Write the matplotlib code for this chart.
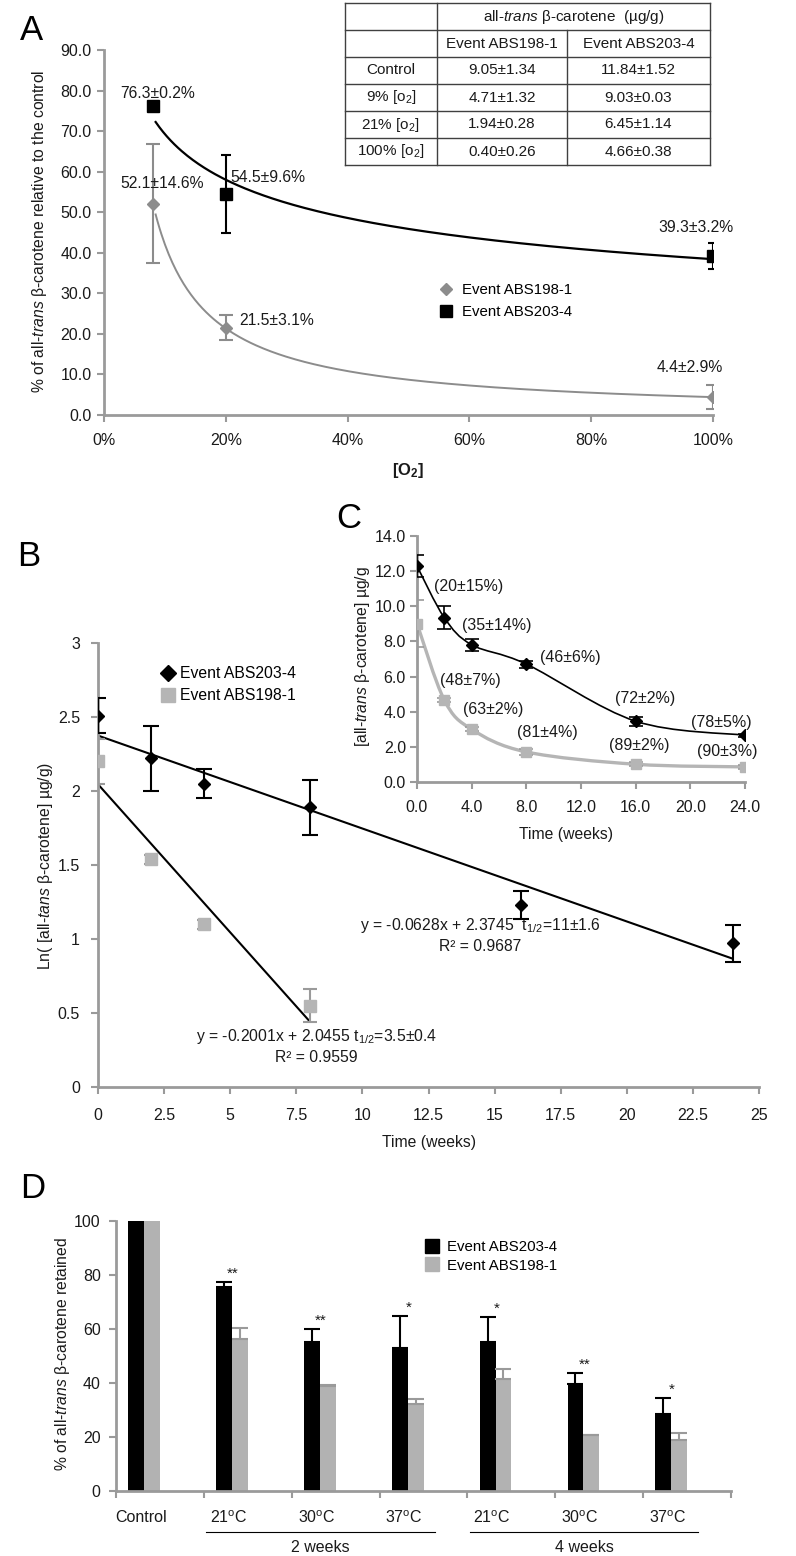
import numpy as np
import matplotlib
matplotlib.use("Agg")
import matplotlib.pyplot as plt
from matplotlib.path import Path
from matplotlib.patches import PathPatch
from matplotlib.lines import Line2D
import matplotlib.transforms as mtrans

# ---------------- data ----------------
# Panel A
o2_levels = [0.08, 0.20, 1.00]
a_abs198_mean = [52.1, 21.5, 4.4]
a_abs198_err = [14.6, 3.1, 2.9]
a_abs203_mean = [76.3, 54.5, 39.3]
a_abs203_err = [0.2, 9.6, 3.2]
a_abs198_labels = ["52.1±14.6%", "21.5±3.1%", "4.4±2.9%"]
a_abs203_labels = ["76.3±0.2%", "54.5±9.6%", "39.3±3.2%"]

table_rows = ["Control", "9% [o$_2$]", "21% [o$_2$]", "100% [o$_2$]"]
table_abs198 = ["9.05±1.34", "4.71±1.32", "1.94±0.28", "0.40±0.26"]
table_abs203 = ["11.84±1.52", "9.03±0.03", "6.45±1.14", "4.66±0.38"]

# Panel B
b_weeks_203 = [0, 2, 4, 8, 16, 24]
b_ln_203 = [2.51, 2.22, 2.05, 1.89, 1.23, 0.97]
b_ln_203_err = [0.12, 0.22, 0.10, 0.185, 0.095, 0.124]
b_weeks_198 = [0, 2, 4, 8]
b_ln_198 = [2.20, 1.54, 1.10, 0.55]
b_ln_198_err = [0.15, 0.03, 0.03, 0.11]
fit_203 = [-0.0628, 2.3745]
fit_198 = [-0.2001, 2.0455]

# Panel C
c_weeks = [0, 2, 4, 8, 16, 24]
c_abs203 = [12.29, 9.35, 7.81, 6.71, 3.46, 2.66]
c_abs203_err = [0.65, 0.65, 0.33, 0.20, 0.25, 0.10]
c_abs198 = [9.02, 4.66, 3.00, 1.71, 1.01, 0.86]
c_abs198_err = [1.34, 0.10, 0.12, 0.15, 0.10, 0.10]
c_loss_203 = ["(20±15%)", "(35±14%)", "(46±6%)", "(72±2%)", "(78±5%)"]
c_loss_198 = ["(48±7%)", "(63±2%)", "(81±4%)", "(89±2%)", "(90±3%)"]

# Panel D
d_categories = ["Control", "21$^\\mathregular{o}$C", "30$^\\mathregular{o}$C", "37$^\\mathregular{o}$C",
                "21$^\\mathregular{o}$C", "30$^\\mathregular{o}$C", "37$^\\mathregular{o}$C"]
d_abs203 = [100, 75.4, 55.1, 52.9, 55.2, 39.5, 28.5]
d_abs203_err = [0, 2.1, 5.0, 12.0, 9.1, 4.3, 6.0]
d_abs198 = [100, 56.2, 38.9, 32.2, 41.4, 20.7, 18.9]
d_abs198_err = [0, 4.3, 0.5, 2.0, 3.9, 0.2, 2.7]
d_signif = ["", "**", "**", "*", "*", "**", "*"]
d_groups = ["2 weeks", "4 weeks"]
d_group_members = [[1, 2, 3], [4, 5, 6]]

# ---------------- fonts ----------------
FONT = "Liberation Sans"
plt.rcParams["font.family"] = [FONT, "DejaVu Sans"]
plt.rcParams["mathtext.fontset"] = "custom"
plt.rcParams["mathtext.rm"] = FONT
plt.rcParams["mathtext.it"] = FONT + ":italic"
plt.rcParams["mathtext.bf"] = FONT + ":bold"

W, H = 796, 1556
fig = plt.figure(figsize=(W / 100, H / 100), dpi=100)

SPINE = "#9a9a9a"
TXT = "#1a1a1a"
TICKFS = 11.5
LABFS = 11.3
LEGFS = 10.8
DATFS = 11.3


def px_axes(l, t, r, b):
    return fig.add_axes([l / W, 1 - b / H, (r - l) / W, (b - t) / H])


def style(ax):
    for s in ["top", "right"]:
        ax.spines[s].set_visible(False)
    for s in ["left", "bottom"]:
        ax.spines[s].set_color(SPINE)
        ax.spines[s].set_linewidth(2)
    ax.tick_params(direction="out", length=5, width=1.5, color=SPINE,
                   labelsize=TICKFS, labelcolor=TXT, pad=4)
    ax.patch.set_alpha(0)


def ftext(x, y, s, **kw):
    fig.text(x / W, 1 - y / H, s, **kw)


# ================= Panel A =================
axA = px_axes(104, 50, 713, 415)
style(axA)
axA.set_xlim(0, 1)
axA.set_ylim(0, 90)
axA.set_yticks(np.arange(0, 91, 10))
axA.set_yticklabels([f"{v:.1f}" for v in np.arange(0, 91, 10)])
axA.set_xticks(np.arange(0, 1.01, 0.2))
axA.set_xticklabels([f"{v:.0%}" for v in np.arange(0, 1.01, 0.2)])
axA.tick_params(axis="x", pad=8)

GRAY_A = "#8c8c8c"
xo = np.array(o2_levels)
for mean, err, col, mk, ms, cap in [
        (a_abs198_mean, a_abs198_err, GRAY_A, "D", 6, 5),
        (a_abs203_mean, a_abs203_err, "black", "s", 8, 3.5)]:
    axA.errorbar(xo, mean, yerr=err, fmt=mk, color=col, ms=ms, ecolor=col,
                 elinewidth=1.5, capsize=cap, capthick=1.5, zorder=3)
    b, a = np.polyfit(np.log(xo), np.log(mean), 1)
    xx = np.linspace(xo.min() * 1.06, xo.max(), 300)
    axA.plot(xx, np.exp(a) * xx ** b, color=col, lw=1.6 if col == "black" else 1.4, zorder=2)

a198_off = [(9, 20, "center"), (13, 7, "left"), (-23, 30, "center")]
a203_off = [(5, 12, "center"), (5, 16, "left"), (-17, 28, "center")]
for xs, ys, labs, offs in [(o2_levels, a_abs198_mean, a_abs198_labels, a198_off),
                           (o2_levels, a_abs203_mean, a_abs203_labels, a203_off)]:
    for x, y, s, (dx, dy, ha) in zip(xs, ys, labs, offs):
        axA.annotate(s, (x, y), xytext=(dx * 0.72, dy * 0.72), textcoords="offset points",
                     ha=ha, va="center", fontsize=DATFS, color=TXT)

axA.legend(handles=[
    Line2D([], [], ls="none", marker="D", ms=6, color=GRAY_A, label="Event ABS198-1"),
    Line2D([], [], ls="none", marker="s", ms=8, color="black", label="Event ABS203-4")],
    loc="upper left", bbox_to_anchor=(438 / W, 1 - 283 / H), bbox_transform=fig.transFigure,
    frameon=False, fontsize=LEGFS, handlelength=1.1, handletextpad=0.5, labelspacing=0.55,
    borderpad=0, borderaxespad=0)

ftext(40, 231, "% of all-$\\mathit{trans}$ β-carotene relative to the control", rotation=90,
      ha="center", va="center", fontsize=LABFS, color=TXT)
ftext(408, 470, "$\\mathbf{[O_2]}$", ha="center", va="center", fontsize=12, color=TXT)
ftext(32, 30, "A", ha="center", va="center", fontsize=25)

# ---- table ----
col_x = [345, 437, 567, 710]
row_y = [3, 30, 57, 84, 111, 138, 165]
axT = px_axes(col_x[0] - 2, row_y[0] - 2, col_x[-1] + 2, row_y[-1] + 2)
axT.set_xlim(col_x[0] - 2, col_x[-1] + 2)
axT.set_ylim(row_y[-1] + 2, row_y[0] - 2)
axT.axis("off")
LC = "#404040"
for y in row_y:
    axT.plot([col_x[0], col_x[-1]], [y, y], color=LC, lw=1)
for x in [col_x[0], col_x[1], col_x[3]]:
    axT.plot([x, x], [row_y[0], row_y[-1]], color=LC, lw=1)
axT.plot([col_x[2], col_x[2]], [row_y[1], row_y[-1]], color=LC, lw=1)
tkw = dict(ha="center", va="center", fontsize=11, color=TXT)
c1 = (col_x[0] + col_x[1]) / 2
c2 = (col_x[1] + col_x[2]) / 2
c3 = (col_x[2] + col_x[3]) / 2
axT.text((col_x[1] + col_x[3]) / 2, (row_y[0] + row_y[1]) / 2,
         "all-$\\mathit{trans}$ β-carotene  (µg/g)", **tkw)
axT.text(c2, (row_y[1] + row_y[2]) / 2, "Event ABS198-1", **tkw)
axT.text(c3, (row_y[1] + row_y[2]) / 2, "Event ABS203-4", **tkw)
for i, (r, v1, v2) in enumerate(zip(table_rows, table_abs198, table_abs203)):
    yc = (row_y[i + 2] + row_y[i + 3]) / 2
    axT.text(c1, yc, r, **tkw)
    axT.text(c2, yc, v1, **tkw)
    axT.text(c3, yc, v2, **tkw)

# ================= Panel B =================
GRAY_B = "#b5b5b5"
GRAY_E = "#9a9a9a"
axB = px_axes(98, 643, 759, 1087)
style(axB)
axB.set_xlim(0, 25)
axB.set_ylim(0, 3)
bx = np.arange(0, 25.01, 2.5)
axB.set_xticks(bx)
axB.set_xticklabels([f"{v:g}" for v in bx])
by = np.arange(0, 3.01, 0.5)
axB.set_yticks(by)
axB.set_yticklabels([f"{v:g}" for v in by])
axB.tick_params(axis="x", pad=10)
axB.tick_params(axis="y", pad=8)

for (m, c), xs in [(fit_203, b_weeks_203), (fit_198, b_weeks_198)]:
    xx = np.array([min(xs), max(xs)], dtype=float)
    axB.plot(xx, m * xx + c, color="black", lw=1.5, zorder=2)
axB.errorbar(b_weeks_198, b_ln_198, yerr=b_ln_198_err, fmt="s", ms=9, color=GRAY_B,
             ecolor=GRAY_E, elinewidth=1.5, capsize=5, capthick=1.5, zorder=3)
axB.errorbar(b_weeks_203, b_ln_203, yerr=b_ln_203_err, fmt="D", ms=6, color="black",
             ecolor="black", elinewidth=1.5, capsize=6, capthick=1.5, zorder=4)

axB.text(14.45, 1.088, f"y = {fit_203[0]}x + {fit_203[1]}  t$_{{1/2}}$=11±1.6", ha="center",
         va="center", fontsize=11.3, color=TXT)
axB.text(14.45, 0.946, "R² = 0.9687", ha="center", va="center", fontsize=11.3, color=TXT)
axB.text(8.25, 0.338, f"y = {fit_198[0]}x + {fit_198[1]} t$_{{1/2}}$=3.5±0.4", ha="center",
         va="center", fontsize=11.3, color=TXT)
axB.text(8.25, 0.196, "R² = 0.9559", ha="center", va="center", fontsize=11.3, color=TXT)

axB.legend(handles=[
    Line2D([], [], ls="none", marker="D", ms=8, color="black", label="Event ABS203-4"),
    Line2D([], [], ls="none", marker="s", ms=10, color=GRAY_B, label="Event ABS198-1")],
    loc="upper left", bbox_to_anchor=(160 / W, 1 - 666 / H), bbox_transform=fig.transFigure,
    frameon=False, fontsize=LEGFS + 0.5, handlelength=1.0, handletextpad=0.25, labelspacing=0.45,
    borderpad=0, borderaxespad=0)

ftext(46, 866, "Ln( [all-$\\mathit{tans}$ β-carotene] µg/g)", rotation=90, ha="center",
      va="center", fontsize=LABFS, color=TXT)
ftext(429, 1142, "Time (weeks)", ha="center", va="center", fontsize=LABFS, color=TXT)
ftext(29, 556, "B", ha="center", va="center", fontsize=25)

# ================= Panel C =================
axC = px_axes(417, 536, 745, 782)
style(axC)
axC.set_xlim(0, 24)
axC.set_ylim(0, 14)
cx = np.arange(0, 24.01, 4)
axC.set_xticks(cx)
axC.set_xticklabels([f"{v:.1f}" for v in cx])
cy = np.arange(0, 14.01, 2)
axC.set_yticks(cy)
axC.set_yticklabels([f"{v:.1f}" for v in cy])
axC.tick_params(axis="x", pad=8)
axC.tick_params(axis="y", pad=3)


def smooth_path(xs, ys):
    pts = np.column_stack([xs, ys]).astype(float)
    n = len(pts)
    verts = [pts[0]]
    codes = [Path.MOVETO]
    for i in range(n - 1):
        p0 = pts[i - 1] if i > 0 else pts[i]
        p1, p2 = pts[i], pts[i + 1]
        p3 = pts[i + 2] if i + 2 < n else pts[i + 1]
        verts += [p1 + (p2 - p0) / 6, p2 - (p3 - p1) / 6, p2]
        codes += [Path.CURVE4] * 3
    return Path(verts, codes)


axC.add_patch(PathPatch(smooth_path(c_weeks, c_abs198), fill=False, ec=GRAY_B, lw=2.4, zorder=2))
axC.add_patch(PathPatch(smooth_path(c_weeks, c_abs203), fill=False, ec="black", lw=1.2, zorder=2))
axC.errorbar(c_weeks, c_abs198, yerr=c_abs198_err, fmt="s", ms=7, color=GRAY_B,
             ecolor=GRAY_E, elinewidth=1.2, capsize=5, capthick=1.2, zorder=3)
axC.errorbar(c_weeks, c_abs203, yerr=c_abs203_err, fmt="D", ms=6, color="black",
             ecolor="black", elinewidth=1.2, capsize=5, capthick=1.2, zorder=4)

c203_pos = [(3.80, 11.10), (5.85, 8.88), (11.2, 7.06), (16.68, 4.78), (22.3, 3.41)]
c198_pos = [(3.88, 5.75), (5.56, 4.15), (9.51, 2.79), (16.24, 2.05), (22.68, 1.71)]
for labs, poss in [(c_loss_203, c203_pos), (c_loss_198, c198_pos)]:
    for s, (x, y) in zip(labs, poss):
        axC.text(x, y, s, ha="center", va="center", fontsize=11.5, color=TXT)

ftext(363, 657, "[all-$\\mathit{trans}$ β-carotene] µg/g", rotation=90, ha="center",
      va="center", fontsize=LABFS, color=TXT)
ftext(566, 835, "Time (weeks)", ha="center", va="center", fontsize=LABFS, color=TXT)
ftext(349, 519, "C", ha="center", va="center", fontsize=25)

# ================= Panel D =================
axD = px_axes(116, 1221, 731, 1491)
style(axD)
n = len(d_categories)
axD.set_xlim(-0.5, n - 0.5)
axD.set_ylim(0, 100)
axD.set_yticks(np.arange(0, 101, 20))
axD.set_xticks(np.arange(-0.5, n, 1.0))
axD.set_xticklabels([])
axD.tick_params(axis="y", pad=6)
bw = 0.18
xi = np.arange(n)
axD.bar(xi - 1.5 * bw, d_abs203, width=bw, color="black", zorder=2)
axD.bar(xi - 0.5 * bw, d_abs198, width=bw, color="#b2b2b2", zorder=2)
for i in range(1, n):
    axD.errorbar(xi[i] - 1.5 * bw, d_abs203[i], yerr=[[0], [d_abs203_err[i]]], fmt="none",
                 ecolor="black", elinewidth=1.5, capsize=5.5, capthick=1.5, zorder=3)
    axD.errorbar(xi[i] - 0.5 * bw, d_abs198[i], yerr=[[0], [d_abs198_err[i]]], fmt="none",
                 ecolor=GRAY_E, elinewidth=1.5, capsize=5.5, capthick=1.5, zorder=3)
    axD.text(xi[i] - 1.5 * bw + 0.1, d_abs203[i] + d_abs203_err[i] + 0.5, d_signif[i],
             ha="center", va="bottom", fontsize=11, color=TXT)

for i, lab in enumerate(d_categories):
    axD.annotate(lab, (xi[i] - 0.22, 0), xycoords=("data", "axes fraction"),
                 xytext=(0, -27 * 0.72), textcoords="offset points", ha="center", va="center",
                 fontsize=11.5, color=TXT, annotation_clip=False)
line_tr = axD.get_xaxis_transform() + mtrans.ScaledTranslation(0, -41 / 100, fig.dpi_scale_trans)
for g, mem in zip(d_groups, d_group_members):
    x0, x1 = mem[0] - 0.47, mem[-1] + 0.13
    axD.plot([x0, x1], [0, 0], transform=line_tr, color="black", lw=0.8, clip_on=False)
    axD.annotate(g, ((x0 + x1) / 2, 0), xycoords=("data", "axes fraction"),
                 xytext=(0, -57 * 0.72), textcoords="offset points", ha="center", va="center",
                 fontsize=11.5, color=TXT, annotation_clip=False)

axD.legend(handles=[
    Line2D([], [], ls="none", marker="s", ms=10, color="black", label="Event ABS203-4"),
    Line2D([], [], ls="none", marker="s", ms=10, color="#b2b2b2", label="Event ABS198-1")],
    loc="upper left", bbox_to_anchor=(425 / W, 1 - 1240 / H), bbox_transform=fig.transFigure,
    frameon=False, fontsize=LEGFS, handlelength=1.0, handletextpad=0.5, labelspacing=0.3,
    borderpad=0, borderaxespad=0)

ftext(62, 1354, "% of all-$\\mathit{trans}$ β-carotene retained", rotation=90, ha="center",
      va="center", fontsize=LABFS, color=TXT)
ftext(33, 1188, "D", ha="center", va="center", fontsize=25)

fig.savefig("out.png", dpi=100)
